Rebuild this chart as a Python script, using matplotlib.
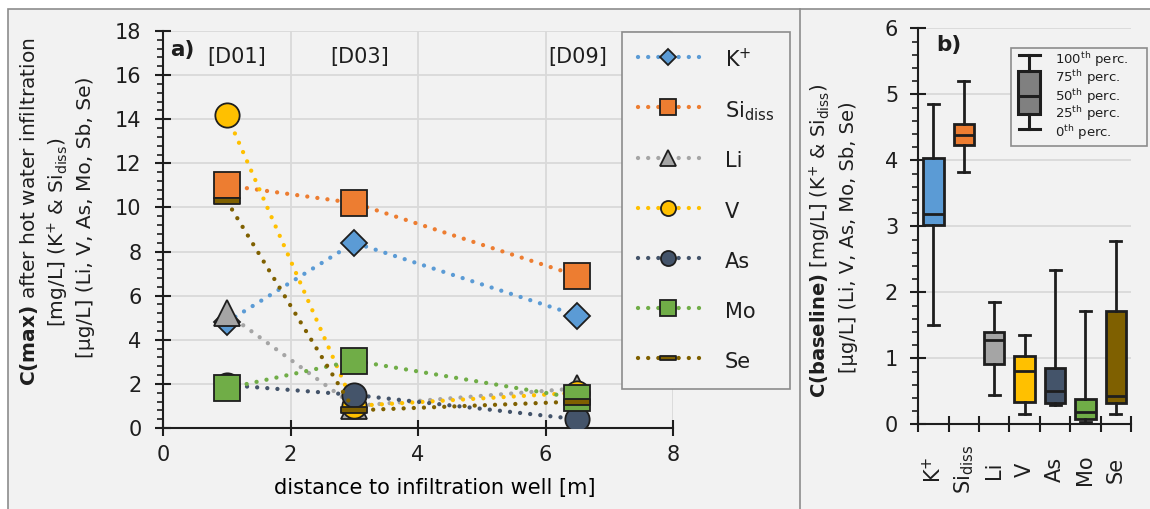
import matplotlib.pyplot as plt
from matplotlib.lines import Line2D
from matplotlib.patches import Rectangle
from matplotlib.path import Path
from matplotlib.ticker import MultipleLocator, FixedLocator
from matplotlib.transforms import blended_transform_factory

plt.rcParams['font.family'] = ['DejaVu Sans']
plt.rcParams['mathtext.fontset'] = 'dejavusans'
plt.rcParams['text.color'] = '#1e1e1e'

W, H = 1150, 509


def fx(px):
    return px / W


def fy(py):
    return 1 - py / H


# a) maximum concentration after the hot water infiltration
distance = [1.0, 3.0, 6.5]
wells = ['[D01]', '[D03]', '[D09]']
well_x = [1.15, 3.08, 6.5]
k_max = [4.8, 8.4, 5.1]
si_max = [11.0, 10.2, 6.9]
li_max = [5.2, 1.0, 1.8]
v_max = [14.2, 1.0, 1.6]
as_max = [1.95, 1.5, 0.4]
mo_max = [1.8, 3.05, 1.35]
se_max = [10.3, 0.8, 1.2]

# b) baseline percentiles (0th, 25th, 50th, 75th, 100th)
elements = ['K$^{+}$', 'Si$_{\\mathrm{diss}}$', 'Li', 'V', 'As', 'Mo', 'Se']
p0 = [1.50, 3.82, 0.45, 0.15, 0.29, 0.03, 0.15]
p25 = [3.02, 4.23, 0.91, 0.34, 0.32, 0.08, 0.32]
p50 = [3.18, 4.38, 1.28, 0.81, 0.50, 0.18, 0.43]
p75 = [4.04, 4.55, 1.40, 1.04, 0.86, 0.39, 1.71]
p100 = [4.85, 5.20, 1.86, 1.35, 2.34, 1.72, 2.77]

colors = ['#5b9bd5', '#ed7d31', '#a5a5a5', '#ffc000', '#44546a', '#70ad47', '#7f6000']
edge = '#1e1e1e'

# flat bar marker for Se
se_bar = Path([(-1, -0.2), (1, -0.2), (1, 0.2), (-1, 0.2), (-1, -0.2)], closed=True)

fig = plt.figure(figsize=(W / 100, H / 100), dpi=100)
fig.patch.set_facecolor('white')

# grey background with frame, split into the two panels
fig.add_artist(Rectangle((fx(8), -0.05), 1.0, fy(9) + 0.05, transform=fig.transFigure,
                         fc='#f2f2f2', ec='#8c8c8c', lw=1.2, zorder=-5))
fig.add_artist(Line2D([fx(800), fx(800)], [0, fy(9)], transform=fig.transFigure,
                      color='#8c8c8c', lw=1.2, zorder=-4))

# ---- panel a ----
ax_a = fig.add_axes([fx(163), fy(428), (673 - 163) / W, (428 - 31) / H])
ax_a.set_facecolor('none')

series = [
    ('K$^{+}$', k_max, 'D', 13.2),
    ('Si$_{\\mathrm{diss}}$', si_max, 's', 18.7),
    ('Li', li_max, '^', 18.5),
    ('V', v_max, 'o', 17.5),
    ('As', as_max, 'o', 17.5),
    ('Mo', mo_max, 's', 18.7),
    ('Se', se_max, se_bar, 18.7),
]
for i, (lab, vals, mk, ms) in enumerate(series):
    ax_a.plot(distance, vals, color=colors[i], lw=3.1, linestyle=(0, (0.01, 2.35)),
              dash_capstyle='round', marker=mk, ms=ms, mfc=colors[i], mec=edge,
              mew=1.3, label=lab, zorder=3 + i)

for x, lab in zip(well_x, wells):
    ax_a.text(x, 16.8, lab, ha='center', va='center', fontsize=15)

ax_a.set_xlim(0, 8)
ax_a.set_ylim(0, 18)
ax_a.xaxis.set_major_locator(MultipleLocator(2))
ax_a.yaxis.set_major_locator(MultipleLocator(2))
ax_a.yaxis.set_minor_locator(MultipleLocator(0.4))
ax_a.grid(True, which='major', color='#d9d9d9', lw=1.3)
ax_a.set_axisbelow(True)
for s in ['top', 'right']:
    ax_a.spines[s].set_visible(False)
for s in ['left', 'bottom']:
    ax_a.spines[s].set_color(edge)
    ax_a.spines[s].set_linewidth(1.5)
ax_a.tick_params(which='major', direction='inout', length=11, width=1.5, color=edge,
                 labelsize=15, labelcolor='#1e1e1e')
ax_a.tick_params(axis='y', which='major', pad=10)
ax_a.tick_params(axis='x', which='major', pad=7)
ax_a.tick_params(which='minor', direction='out', length=4, width=1.2, color=edge)

ax_a.set_xlabel('distance to infiltration well [m]', fontsize=15)
ax_a.xaxis.set_label_coords((435 - 163) / 510, (428 - 488) / 397)
ax_a.xaxis.label.set_va('center')

leg = ax_a.legend(loc='upper left', bbox_to_anchor=(fx(622), fy(32)),
                  bbox_transform=fig.transFigure, fontsize=15, markerscale=0.62,
                  handlelength=2.95, handleheight=1.45, handletextpad=1.25,
                  labelspacing=1.22, borderpad=0.75, borderaxespad=0,
                  fancybox=False, framealpha=1, facecolor='#f2f2f2', edgecolor='#8c8c8c')
leg.get_frame().set_linewidth(1.2)

fig.text(fx(182), fy(50), 'a)', fontsize=15.5, fontweight='bold', ha='center', va='center')
fig.text(fx(29), fy(212), r'$\mathbf{C(max)}$ after hot water infiltration',
         rotation=90, ha='center', va='center', fontsize=14.5)
fig.text(fx(58), fy(232), r'[mg/L] (K$^{+}$ & Si$_{\mathrm{diss}}$)',
         rotation=90, ha='center', va='center', fontsize=14.5)
fig.text(fx(86), fy(217), '[µg/L] (Li, V, As, Mo, Sb, Se)',
         rotation=90, ha='center', va='center', fontsize=14.5)

# ---- panel b ----
ax_b = fig.add_axes([fx(918.3), fy(424.3), (1131 - 918.3) / W, (424.3 - 28.3) / H])
ax_b.set_facecolor('none')
ax_b.set_zorder(0)

stats = [dict(whislo=p0[i], q1=p25[i], med=p50[i], q3=p75[i], whishi=p100[i], fliers=[])
         for i in range(len(elements))]
bp = ax_b.bxp(stats, positions=range(1, len(elements) + 1), widths=0.67, capwidths=0.36,
              patch_artist=True, showfliers=False, manage_ticks=False,
              boxprops=dict(lw=2, edgecolor=edge),
              medianprops=dict(color=edge, lw=2),
              whiskerprops=dict(color=edge, lw=2),
              capprops=dict(color=edge, lw=2))
for patch, c in zip(bp['boxes'], colors):
    patch.set_facecolor(c)

ax_b.set_xlim(0.5, len(elements) + 0.5)
ax_b.set_ylim(0, 6)
ax_b.xaxis.set_major_locator(FixedLocator([i + 0.5 for i in range(len(elements) + 1)]))
ax_b.yaxis.set_major_locator(MultipleLocator(1))
ax_b.yaxis.set_minor_locator(MultipleLocator(0.2))
ax_b.grid(True, axis='y', which='major', color='#d9d9d9', lw=1.3)
ax_b.set_axisbelow(True)
for s in ['top', 'right']:
    ax_b.spines[s].set_visible(False)
for s in ['left', 'bottom']:
    ax_b.spines[s].set_color(edge)
    ax_b.spines[s].set_linewidth(1.5)
ax_b.tick_params(which='major', direction='inout', length=11, width=1.5, color=edge,
                 labelsize=15, labelcolor='#1e1e1e', pad=9)
ax_b.tick_params(axis='x', labelbottom=False)
ax_b.tick_params(which='minor', direction='out', length=4, width=1.2, color=edge)

trans = blended_transform_factory(ax_b.transData, ax_b.transAxes)
for pos, name in enumerate(elements, start=1):
    ax_b.text(pos, -0.115, name, transform=trans, rotation=90, ha='center', va='center',
              fontsize=15)

fig.text(fx(949), fy(45), 'b)', fontsize=15.5, fontweight='bold', ha='center', va='center')
fig.text(fx(820), fy(241), r'$\mathbf{C(baseline)}$ [mg/L] (K$^{+}$ & Si$_{\mathrm{diss}}$)',
         rotation=90, ha='center', va='center', fontsize=14)
fig.text(fx(848), fy(237), '[µg/L] (Li, V, As, Mo, Sb, Se)',
         rotation=90, ha='center', va='center', fontsize=14)

# percentile key for the box plots
fig.add_artist(Rectangle((fx(1011), fy(146)), (1147 - 1011) / W, (146 - 48) / H,
                         transform=fig.transFigure, fc='#f2f2f2', ec='#8c8c8c', lw=1.2,
                         zorder=1))
key_pct = dict(whislo=6.7, q1=24.7, med=46.2, q3=75.6, whishi=94.1, fliers=[])
ax_k = fig.add_axes([fx(1008), fy(135), 42 / W, 85 / H])
ax_k.set_zorder(2)
ax_k.axis('off')
ax_k.bxp([key_pct], positions=[0], widths=1.05, capwidths=1.0, patch_artist=True,
         showfliers=False, manage_ticks=False,
         boxprops=dict(lw=2.2, edgecolor=edge, facecolor='#808080'),
         medianprops=dict(color=edge, lw=2.2),
         whiskerprops=dict(color=edge, lw=2.2),
         capprops=dict(color=edge, lw=2.2))
ax_k.set_xlim(-1, 1)
ax_k.set_ylim(0, 100)

key_labels = ['100$^{\\mathrm{th}}$ perc.', '75$^{\\mathrm{th}}$ perc.', '50$^{\\mathrm{th}}$ perc.',
              '25$^{\\mathrm{th}}$ perc.', '0$^{\\mathrm{th}}$ perc.']
key_y = [60, 78, 97, 114, 133]
for lab, py in zip(key_labels, key_y):
    fig.text(fx(1055), fy(py), lab, fontsize=9.5, ha='left', va='center', zorder=3)

fig.savefig('out.png', dpi=100)
